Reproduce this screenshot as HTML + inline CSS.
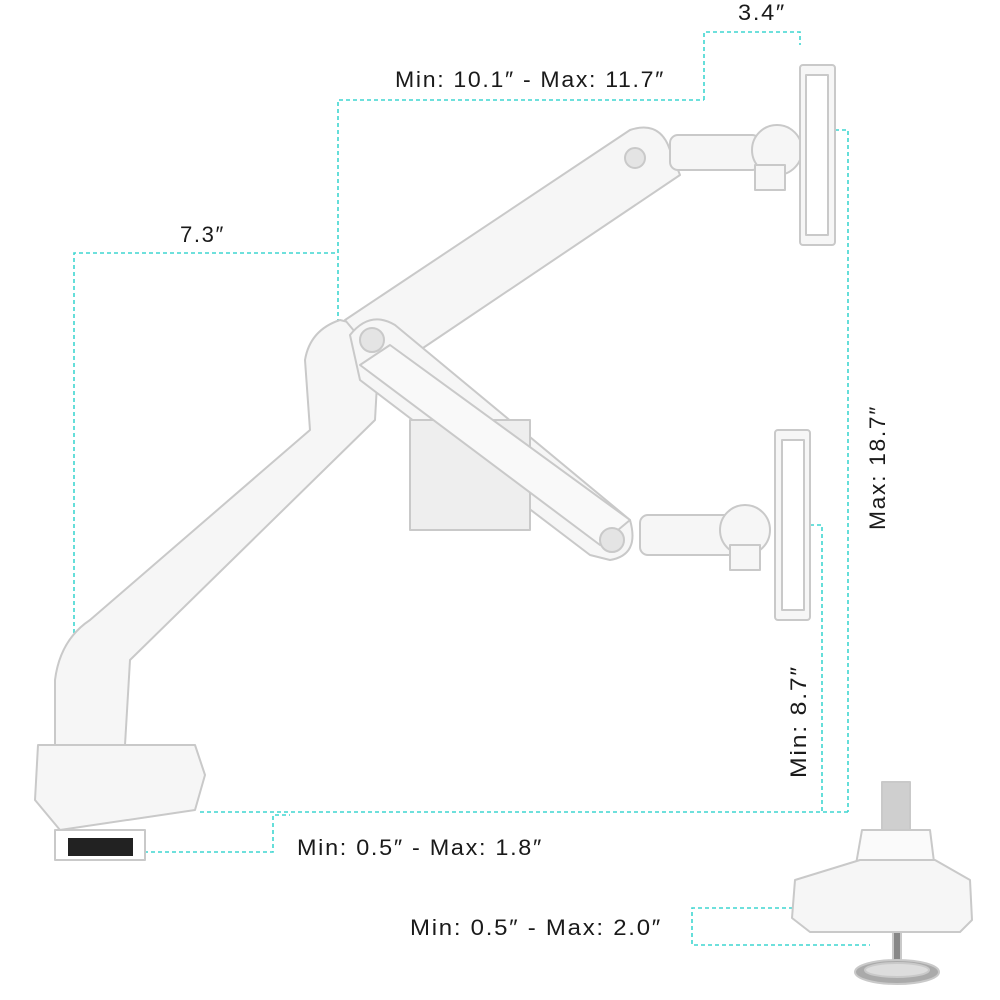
<!DOCTYPE html>
<html><head><style>
html,body{margin:0;padding:0;background:#fff;}
svg{display:block}
text{font-family:"Liberation Sans",sans-serif;font-size:22px;letter-spacing:1.6px;fill:#1a1a1a;}
</style></head><body>
<svg width="1000" height="1000" viewBox="0 0 1000 1000">
<g fill="none" stroke="#3fd6d0" stroke-width="1.6" stroke-dasharray="4,3">
<polyline points="704,100 704,32 800,32 800,45"/>
<polyline points="338,330 338,100 704,100"/>
<polyline points="74,640 74,253 338,253"/>
<polyline points="835,130 848,130 848,812"/>
<polyline points="810,525 822,525 822,812"/>
<line x1="200" y1="812" x2="848" y2="812"/>
<polyline points="130,852 273,852 273,815 290,815"/>
<polyline points="800,908 692,908 692,945 870,945"/>
</g>
<g stroke="#c9c9c9" stroke-width="2" fill="#f6f6f6" stroke-linejoin="round">
<path d="M38,745 L195,745 L205,775 L195,810 L60,830 L35,800 Z"/>
<rect x="55" y="830" width="90" height="30" fill="#fff"/>
<rect x="68" y="838" width="65" height="18" fill="#222" stroke="none"/>
<path d="M55,745 L55,680 Q60,640 90,620 L310,430 L305,360 Q310,330 340,320 L380,330 L375,420 L130,660 L125,745 Z"/>
<path d="M345,320 L630,130 Q660,120 670,150 L680,175 L420,350 L370,350 Z"/>
<path d="M350,335 Q370,310 395,325 L630,520 Q640,555 610,560 L590,555 L360,380 Z"/>
<rect x="410" y="420" width="120" height="110" fill="#eee"/>
<path d="M360,365 L390,345 L630,520 L600,545 Z" fill="#f9f9f9"/>
<rect x="670" y="135" width="90" height="35" rx="8"/>
<circle cx="777" cy="150" r="25"/>
<rect x="755" y="165" width="30" height="25"/>
<rect x="800" y="65" width="35" height="180" rx="3"/>
<rect x="806" y="75" width="22" height="160" fill="#fff"/>
<rect x="640" y="515" width="100" height="40" rx="8"/>
<circle cx="745" cy="530" r="25"/>
<rect x="730" y="545" width="30" height="25"/>
<rect x="775" y="430" width="35" height="190" rx="3"/>
<rect x="782" y="440" width="22" height="170" fill="#fff"/>
<circle cx="372" cy="340" r="12" fill="#e4e4e4"/>
<circle cx="612" cy="540" r="12" fill="#e4e4e4"/>
<circle cx="635" cy="158" r="10" fill="#e4e4e4"/>
<rect x="882" y="782" width="28" height="50" fill="#cfcfcf"/>
<path d="M862,830 L930,830 L935,870 L855,870 Z" fill="#fafafa"/>
<path d="M795,880 L860,860 L935,860 L970,880 L972,920 L960,932 L810,932 L792,918 Z"/>
<rect x="893" y="932" width="8" height="35" fill="#888"/>
<ellipse cx="897" cy="972" rx="42" ry="12" fill="#aaa"/>
<ellipse cx="897" cy="970" rx="32" ry="7" fill="#ddd"/>
</g>
<text x="738" y="20" textLength="48" lengthAdjust="spacingAndGlyphs">3.4″</text>
<text x="395" y="87" textLength="270" lengthAdjust="spacingAndGlyphs">Min: 10.1″ - Max: 11.7″</text>
<text x="180" y="242" textLength="45" lengthAdjust="spacingAndGlyphs">7.3″</text>
<text x="297" y="855" textLength="246" lengthAdjust="spacingAndGlyphs">Min: 0.5″ - Max: 1.8″</text>
<text x="410" y="935" textLength="252" lengthAdjust="spacingAndGlyphs">Min: 0.5″ - Max: 2.0″</text>
<text transform="translate(885,530) rotate(-90)" textLength="125" lengthAdjust="spacingAndGlyphs">Max: 18.7″</text>
<text transform="translate(806,778) rotate(-90)" textLength="113" lengthAdjust="spacingAndGlyphs">Min: 8.7″</text>
</svg>
</body></html>
